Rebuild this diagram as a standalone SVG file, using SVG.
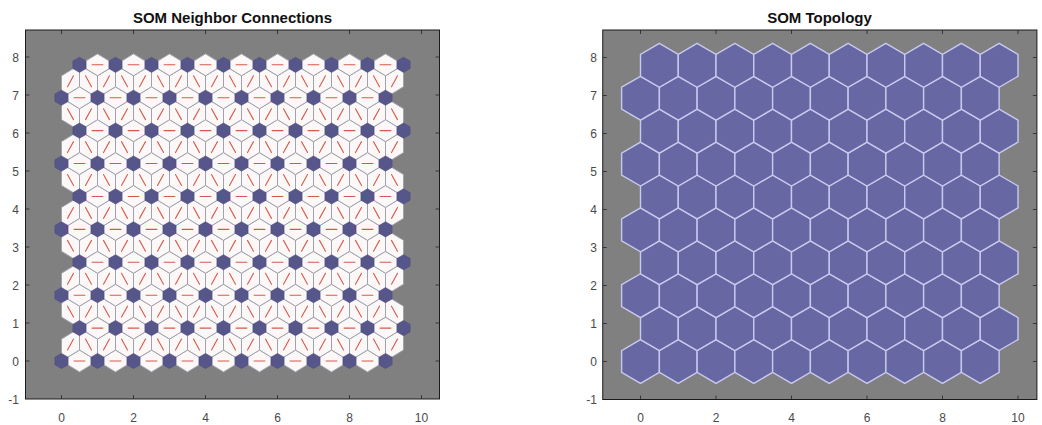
<svg xmlns="http://www.w3.org/2000/svg" width="1042" height="425" viewBox="0 0 1042 425">
<style>
.cell{fill:#fcf8f8;stroke:#9fa3b0;stroke-width:1}
.red{stroke:#d5594b;stroke-width:1.1;fill:none;stroke-linecap:round}
.neu{fill:#56568a;stroke:#4e4e7e;stroke-width:0.6}
.hex{fill:#6767a3;stroke:#c9c9ef;stroke-width:1.4}
.ax{fill:#808080;stroke:none}
.box{fill:none;stroke:#1a1a1a;stroke-width:1}
.tk{stroke:#262626;stroke-width:0.8;fill:none}
.tl{font-family:"Liberation Sans",Arial,sans-serif;font-size:12px;fill:#4a4a4a}
.tx{text-anchor:middle}
.ty{text-anchor:end}
.ttl{font-family:"Liberation Sans",Arial,sans-serif;font-size:15px;font-weight:bold;fill:#111;text-anchor:middle}
</style>
<defs>
<g id="cH"><polygon class="cell" points="0,0 18,-10.97 36,0 18,10.97"/><line class="red" x1="12.6" y1="0" x2="23.4" y2="0"/></g>
<g id="cR"><polygon class="cell" points="0,0 18,-10.97 18,-32.91 0,-21.94"/><line class="red" x1="6" y1="-11" x2="12" y2="-21.91"/></g>
<g id="cL"><polygon class="cell" points="0,0 -18,-10.97 -18,-32.91 0,-21.94"/><line class="red" x1="-6" y1="-11" x2="-12" y2="-21.91"/></g>
<g id="hrow"><use href="#cH"/><use href="#cH" x="36"/><use href="#cH" x="72"/><use href="#cH" x="108"/><use href="#cH" x="144"/><use href="#cH" x="180"/><use href="#cH" x="216"/><use href="#cH" x="252"/><use href="#cH" x="288"/></g>
<g id="rrow"><use href="#cR"/><use href="#cR" x="36"/><use href="#cR" x="72"/><use href="#cR" x="108"/><use href="#cR" x="144"/><use href="#cR" x="180"/><use href="#cR" x="216"/><use href="#cR" x="252"/><use href="#cR" x="288"/></g>
<g id="lrow"><use href="#cL"/><use href="#cL" x="36"/><use href="#cL" x="72"/><use href="#cL" x="108"/><use href="#cL" x="144"/><use href="#cL" x="180"/><use href="#cL" x="216"/><use href="#cL" x="252"/><use href="#cL" x="288"/></g>
<g id="evenRow"><use href="#hrow"/><use href="#rrow"/><use href="#cR" x="324"/><use href="#lrow" x="36"/></g>
<g id="oddRow"><use href="#hrow"/><use href="#rrow"/><use href="#lrow"/><use href="#cL" x="324"/></g>
<polygon id="nh" class="neu" points="0,-7.6 6.58,-3.8 6.58,3.8 0,7.6 -6.58,3.8 -6.58,-3.8"/>
<g id="nrow"><use href="#nh"/><use href="#nh" x="36"/><use href="#nh" x="72"/><use href="#nh" x="108"/><use href="#nh" x="144"/><use href="#nh" x="180"/><use href="#nh" x="216"/><use href="#nh" x="252"/><use href="#nh" x="288"/><use href="#nh" x="324"/></g>
<polygon id="hx" class="hex" points="0,-21.94 18.875,-10.97 18.875,10.97 0,21.94 -18.875,10.97 -18.875,-10.97"/>
<g id="hexrow"><use href="#hx"/><use href="#hx" x="37.75"/><use href="#hx" x="75.5"/><use href="#hx" x="113.25"/><use href="#hx" x="151"/><use href="#hx" x="188.75"/><use href="#hx" x="226.5"/><use href="#hx" x="264.25"/><use href="#hx" x="302"/><use href="#hx" x="339.75"/></g>
</defs>
<rect width="1042" height="425" fill="#ffffff"/>

<g id="left-plot">
<text class="ttl" x="232.5" y="23">SOM Neighbor Connections</text>
<rect class="ax" x="25.5" y="30" width="414" height="369"/>
<g id="connections">
<use href="#evenRow" transform="translate(61.5,361)"/>
<use href="#oddRow" transform="translate(79.5,328.09)"/>
<use href="#evenRow" transform="translate(61.5,295.18)"/>
<use href="#oddRow" transform="translate(79.5,262.27)"/>
<use href="#evenRow" transform="translate(61.5,229.36)"/>
<use href="#oddRow" transform="translate(79.5,196.45)"/>
<use href="#evenRow" transform="translate(61.5,163.55)"/>
<use href="#oddRow" transform="translate(79.5,130.64)"/>
<use href="#evenRow" transform="translate(61.5,97.73)"/>
<use href="#hrow" transform="translate(79.5,64.82)"/>
</g>
<g id="neurons">
<use href="#nrow" transform="translate(61.5,361)"/>
<use href="#nrow" transform="translate(79.5,328.09)"/>
<use href="#nrow" transform="translate(61.5,295.18)"/>
<use href="#nrow" transform="translate(79.5,262.27)"/>
<use href="#nrow" transform="translate(61.5,229.36)"/>
<use href="#nrow" transform="translate(79.5,196.45)"/>
<use href="#nrow" transform="translate(61.5,163.55)"/>
<use href="#nrow" transform="translate(79.5,130.64)"/>
<use href="#nrow" transform="translate(61.5,97.73)"/>
<use href="#nrow" transform="translate(79.5,64.82)"/>
</g>
<rect class="box" x="25.5" y="30" width="414" height="369"/>
<path class="tk" d="M61.5,399v-4M133.5,399v-4M205.5,399v-4M277.5,399v-4M349.5,399v-4M421.5,399v-4M61.5,30v4M133.5,30v4M205.5,30v4M277.5,30v4M349.5,30v4M421.5,30v4M25.5,361h4M25.5,323h4M25.5,285h4M25.5,247h4M25.5,209h4M25.5,171h4M25.5,133h4M25.5,95h4M25.5,57h4M439.5,361h-4M439.5,323h-4M439.5,285h-4M439.5,247h-4M439.5,209h-4M439.5,171h-4M439.5,133h-4M439.5,95h-4M439.5,57h-4"/>
<g class="tl tx">
<text x="61.5" y="422">0</text><text x="133.5" y="422">2</text><text x="205.5" y="422">4</text><text x="277.5" y="422">6</text><text x="349.5" y="422">8</text><text x="421.5" y="422">10</text>
</g>
<g class="tl ty">
<text x="19" y="403.5">-1</text><text x="19" y="365.5">0</text><text x="19" y="327.5">1</text><text x="19" y="289.5">2</text><text x="19" y="251.5">3</text><text x="19" y="213.5">4</text><text x="19" y="175.5">5</text><text x="19" y="137.5">6</text><text x="19" y="99.5">7</text><text x="19" y="61.5">8</text>
</g>
</g>

<g id="right-plot">
<text class="ttl" x="819.5" y="23">SOM Topology</text>
<rect class="ax" x="602.75" y="30" width="434.15" height="369.5"/>
<g id="topology">
<use href="#hexrow" transform="translate(640.5,361.5)"/>
<use href="#hexrow" transform="translate(659.375,328.59)"/>
<use href="#hexrow" transform="translate(640.5,295.68)"/>
<use href="#hexrow" transform="translate(659.375,262.77)"/>
<use href="#hexrow" transform="translate(640.5,229.86)"/>
<use href="#hexrow" transform="translate(659.375,196.95)"/>
<use href="#hexrow" transform="translate(640.5,164.05)"/>
<use href="#hexrow" transform="translate(659.375,131.14)"/>
<use href="#hexrow" transform="translate(640.5,98.23)"/>
<use href="#hexrow" transform="translate(659.375,65.32)"/>
</g>
<rect class="box" x="602.75" y="30" width="434.15" height="369.5"/>
<path class="tk" d="M640.5,399.5v-4M716,399.5v-4M791.5,399.5v-4M867,399.5v-4M942.5,399.5v-4M1018,399.5v-4M640.5,30v4M716,30v4M791.5,30v4M867,30v4M942.5,30v4M1018,30v4M602.75,361.5h4M602.75,323.5h4M602.75,285.5h4M602.75,247.5h4M602.75,209.5h4M602.75,171.5h4M602.75,133.5h4M602.75,95.5h4M602.75,57.5h4M1036.9,361.5h-4M1036.9,323.5h-4M1036.9,285.5h-4M1036.9,247.5h-4M1036.9,209.5h-4M1036.9,171.5h-4M1036.9,133.5h-4M1036.9,95.5h-4M1036.9,57.5h-4"/>
<g class="tl tx">
<text x="640.5" y="422">0</text><text x="716" y="422">2</text><text x="791.5" y="422">4</text><text x="867" y="422">6</text><text x="942.5" y="422">8</text><text x="1018" y="422">10</text>
</g>
<g class="tl ty">
<text x="597" y="404">-1</text><text x="597" y="366">0</text><text x="597" y="328">1</text><text x="597" y="290">2</text><text x="597" y="252">3</text><text x="597" y="214">4</text><text x="597" y="176">5</text><text x="597" y="138">6</text><text x="597" y="100">7</text><text x="597" y="62">8</text>
</g>
</g>
</svg>
